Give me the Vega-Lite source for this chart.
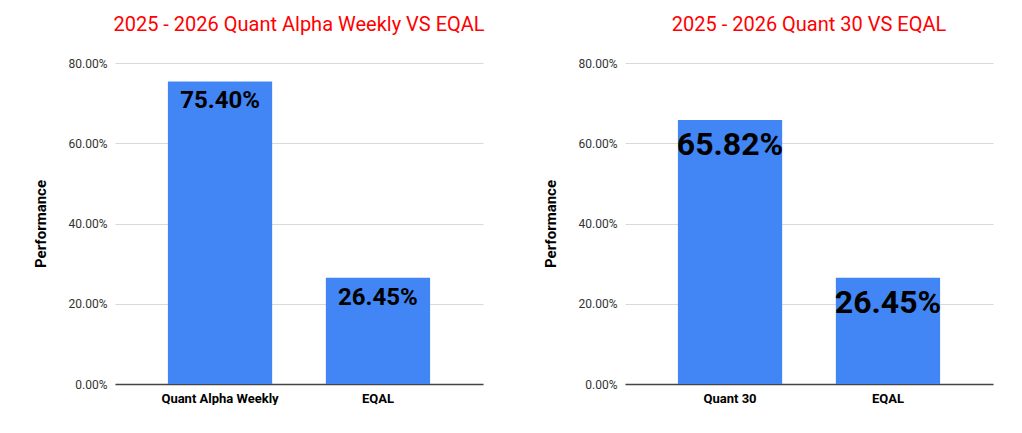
{
"$schema":"https://vega.github.io/schema/vega-lite/v6.json",
"background":"white",
"padding":{"left":33,"top":15,"right":22,"bottom":0},
"spacing":58,
"config":{"view":{"stroke":null},"font":"Roboto",
"title":{"fontSize":20,"fontWeight":"normal","color":"#ff0000","offset":22},
"axisY":{"domain":false,"ticks":false,"labelOverlap":false,"labelColor":"#333","labelFontSize":12,"gridColor":"#d9d9d9","titleFontSize":15,"titleFontWeight":"bold","titleColor":"#000","titlePadding":20,"labelPadding":8},
"axisX":{"domainColor":"#444","domainWidth":1.5,"ticks":false,"labelAngle":0,"labelFontSize":13,"labelFontWeight":"bold","labelColor":"#000","title":null,"labelPadding":8}},
"hconcat":[
{"title":"2025 - 2026 Quant Alpha Weekly VS EQAL","width":368,"height":321,
"data":{"values":[{"cat":"Quant Alpha Weekly","v":0.754,"t":"75.40%"},{"cat":"EQAL","v":0.2645,"t":"26.45%"}]},
"encoding":{"x":{"field":"cat","type":"nominal","sort":null,"scale":{"paddingInner":0.34,"paddingOuter":0.335}},
"y":{"field":"v","type":"quantitative","title":"Performance","scale":{"domain":[0,0.8]},"axis":{"format":".2%","values":[0,0.2,0.4,0.6,0.8]}}},
"layer":[{"mark":{"type":"bar","color":"#4285f4"}},
{"mark":{"type":"text","baseline":"top","dy":8,"fontSize":24,"fontWeight":"bold","color":"#000"},"encoding":{"text":{"field":"t"}}}]},
{"title":"2025 - 2026 Quant 30 VS EQAL","width":368,"height":321,
"data":{"values":[{"cat":"Quant 30","v":0.6582,"t":"65.82%"},{"cat":"EQAL","v":0.2645,"t":"26.45%"}]},
"encoding":{"x":{"field":"cat","type":"nominal","sort":null,"scale":{"paddingInner":0.34,"paddingOuter":0.335}},
"y":{"field":"v","type":"quantitative","title":"Performance","scale":{"domain":[0,0.8]},"axis":{"format":".2%","values":[0,0.2,0.4,0.6,0.8]}}},
"layer":[{"mark":{"type":"bar","color":"#4285f4"}},
{"mark":{"type":"text","baseline":"top","dy":10,"fontSize":32,"fontWeight":"bold","color":"#000"},"encoding":{"text":{"field":"t"}}}]}
]}
